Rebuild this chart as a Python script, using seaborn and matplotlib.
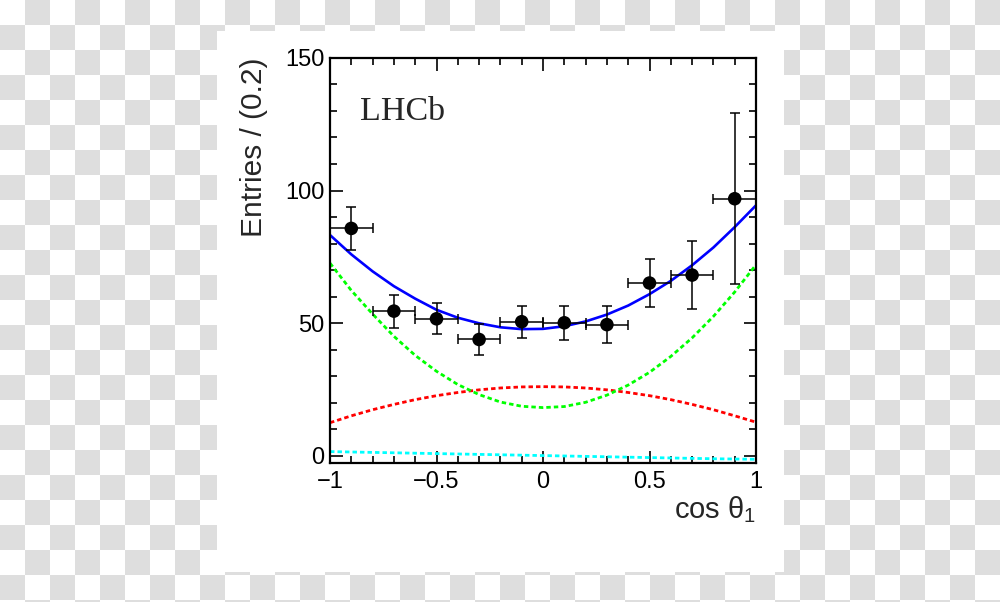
import numpy as np
import pandas as pd
import matplotlib
matplotlib.use("Agg")
import matplotlib.pyplot as plt
import seaborn as sns

# data points (bin centres, entries, errors)
bin_x = [-0.9, -0.7, -0.5, -0.3, -0.1, 0.1, 0.3, 0.5, 0.7, 0.9]
entries = [85.7, 54.5, 51.6, 43.8, 50.5, 50.1, 49.4, 65.1, 68.1, 96.9]
entries_err = [8.0, 6.2, 5.9, 5.8, 6.0, 6.4, 7.1, 9.2, 12.7, 32.3]
bin_half = 0.1

# fit components
curve_x = [-1.0, -0.9, -0.8, -0.7, -0.6, -0.5, -0.4, -0.3, -0.2, -0.1, 0.0,
           0.1, 0.2, 0.3, 0.4, 0.5, 0.6, 0.7, 0.8, 0.9, 1.0]
total = [83.2, 75.9, 69.5, 63.9, 59.2, 55.0, 52.0, 49.9, 48.4, 47.7, 47.8,
         48.8, 50.6, 53.2, 56.6, 60.9, 65.9, 71.8, 78.5, 86.2, 94.4]
comp_green = [72.6, 62.3, 53.4, 45.0, 37.8, 31.8, 26.8, 23.0, 20.2, 18.6, 18.1,
              18.5, 20.1, 22.8, 26.6, 31.4, 37.4, 44.4, 52.5, 61.7, 72.0]
comp_red = [12.4, 15.0, 17.3, 19.3, 21.1, 22.6, 23.8, 24.8, 25.5, 25.9, 26.0,
            25.9, 25.5, 24.8, 23.8, 22.6, 21.1, 19.3, 17.3, 15.0, 12.6]
comp_cyan = [1.5, 1.35, 1.2, 1.05, 0.9, 0.75, 0.6, 0.45, 0.3, 0.15, 0.0,
             -0.15, -0.3, -0.45, -0.6, -0.75, -0.9, -1.05, -1.2, -1.3, -1.4]

xticks = [-1, -0.5, 0, 0.5, 1]
xticklabels = ["\u22121", "\u22120.5", "0", "0.5", "1"]
yticks = [0, 50, 100, 150]

sns.set_style("ticks")
plt.rcParams["font.family"] = ["Liberation Sans", "DejaVu Sans"]
plt.rcParams["mathtext.fontset"] = "custom"
plt.rcParams["mathtext.rm"] = "Liberation Sans"
plt.rcParams["mathtext.it"] = "Liberation Sans"

fig = plt.figure(figsize=(10, 6.02), dpi=100)

# checkered "transparent" background with the white picture area
H, W = 602, 1000
yy, xx = np.mgrid[0:H, 0:W]
bg = np.where(((xx // 25) + (yy // 25)) % 2 == 1, 222 / 255, 1.0)
bg[31:572, 217:784] = 1.0
fig.figimage(bg, cmap="gray", vmin=0, vmax=1, zorder=-10)

ax = fig.add_axes([0.330, 0.2309, 0.426, 0.6728])
ax.set_facecolor("white")

df = pd.DataFrame({"x": curve_x, "total": total, "green": comp_green,
                   "red": comp_red, "cyan": comp_cyan})
dots = (0, (1.6, 1.1))
sns.lineplot(data=df, x="x", y="cyan", color="#00ffff", lw=2.0, linestyle=dots, ax=ax)
sns.lineplot(data=df, x="x", y="red", color="#ff0000", lw=2.0, linestyle=dots, ax=ax)
sns.lineplot(data=df, x="x", y="green", color="#00ff00", lw=2.0, linestyle=dots, ax=ax)
sns.lineplot(data=df, x="x", y="total", color="#0000ff", lw=1.9, ax=ax)

ax.errorbar(bin_x, entries, xerr=bin_half, yerr=entries_err, fmt="none",
            ecolor="black", elinewidth=1.1, capsize=3.8, capthick=1.1, zorder=4)
sns.scatterplot(x=bin_x, y=entries, color="black", s=95, edgecolor="none",
                zorder=5, ax=ax)

ax.set_xlim(-1, 1)
ax.set_ylim(-2.8, 150)
ax.set_xticks(xticks)
ax.set_xticklabels(xticklabels)
ax.set_yticks(yticks)
ax.set_xticks(np.arange(-1, 1.01, 0.1), minor=True)
ax.set_yticks(np.arange(0, 151, 10), minor=True)
ax.tick_params(which="both", direction="in", top=True, right=True,
               width=1.2, labelsize=17, colors="black")
ax.tick_params(which="major", length=9)
ax.tick_params(which="minor", length=5)
ax.tick_params(axis="x", pad=6)
ax.tick_params(axis="y", pad=4)
for s in ax.spines.values():
    s.set_linewidth(1.6)
    s.set_color("black")

ax.set_ylabel("Entries / (0.2)", fontsize=21.5, loc="top")
ax.yaxis.set_label_coords(-0.1455, 1.0)
ax.set_xlabel(r"cos $\theta_{1}$", fontsize=21, loc="right")
ax.xaxis.set_label_coords(1.0, -0.077)

ax.text(0.0704, 0.847, "LHCb", transform=ax.transAxes, fontsize=24.5,
        family="Liberation Serif", va="baseline", ha="left")

fig.savefig("out.png", dpi=100)
